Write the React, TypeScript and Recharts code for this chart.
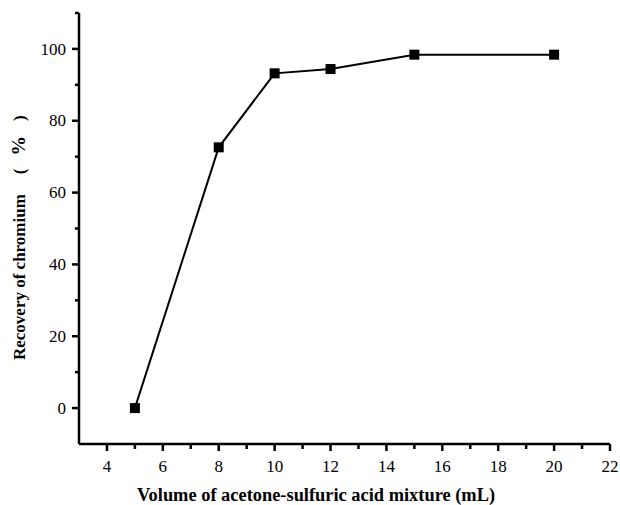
import React from "react";
import { LineChart, Line, XAxis, YAxis, Label } from "recharts";

const volumes = [5, 8, 10, 12, 15, 20];
const recovery = [0, 72.6, 93.2, 94.4, 98.4, 98.4];
const xTicks = [3, 4, 5, 6, 7, 8, 9, 10, 11, 12, 13, 14, 15, 16, 17, 18, 19, 20, 21, 22];
const yTicks = [-10, 0, 10, 20, 30, 40, 50, 60, 70, 80, 90, 100, 110];
const xLabel = "Volume of acetone-sulfuric acid mixture (mL)";
const yLabelMain = "Recovery of chromium";
const yLabelUnit = ["(", "%", ")"];

const data = volumes.map((v, i) => ({ x: v, y: recovery[i] }));

const FONT = "Liberation Serif";
const tickStyle: React.CSSProperties = { fontFamily: FONT, fontSize: 17, fill: "#000" };
const xLabelStyle: React.CSSProperties = { fontFamily: FONT, fontSize: 18.4, fontWeight: "bold", fill: "#000" };
const yLabelStyle: React.CSSProperties = { fontFamily: FONT, fontSize: 17, fontWeight: "bold", fill: "#000" };

const XTick = (props: any) => {
  const { x, y, payload } = props;
  const v = payload.value;
  if (v === 3) return <g />;
  const major = v % 2 === 0;
  return (
    <g>
      <line x1={x} x2={x} y1={y} y2={y + (major ? 7 : 5)} stroke="#000" strokeWidth={2.5} />
      {major && (
        <text x={x} y={y + 28} textAnchor="middle" style={tickStyle}>
          {v}
        </text>
      )}
    </g>
  );
};

const YTick = (props: any) => {
  const { x, y, payload } = props;
  const v = payload.value;
  if (v === -10) return <g />;
  const major = v % 20 === 0;
  return (
    <g>
      <line x1={x} x2={x - (major ? 7 : 4)} y1={y} y2={y} stroke="#000" strokeWidth={2.5} />
      {major && (
        <text x={x - 13} y={y + 5.7} textAnchor="end" style={tickStyle}>
          {v}
        </text>
      )}
    </g>
  );
};

const SquareDot = (props: any) => {
  const { cx, cy, index } = props;
  if (cx == null || cy == null) return <g key={index} />;
  return <rect key={index} x={cx - 5} y={cy - 5} width={10} height={10} fill="#000" />;
};

export default function App() {
  return (
    <div style={{ position: "absolute", left: 0, top: 0, background: "#fff" }}>
      <LineChart
        width={620}
        height={505}
        data={data}
        margin={{ top: 13, right: 10, left: 0, bottom: 0 }}
      >
        <XAxis
          dataKey="x"
          type="number"
          domain={[3, 22]}
          ticks={xTicks}
          interval={0}
          tickSize={0}
          tickMargin={0}
          tickLine={false}
          tick={<XTick />}
          height={61}
          axisLine={{ stroke: "#000", strokeWidth: 2.5 }}
        >
          <Label
            content={() => (
              <text x={137} y={501} textAnchor="start" style={xLabelStyle}>
                {xLabel}
              </text>
            )}
          />
        </XAxis>
        <YAxis
          type="number"
          domain={[-10, 110]}
          ticks={yTicks}
          interval={0}
          tickSize={0}
          tickMargin={0}
          tickLine={false}
          tick={<YTick />}
          width={79}
          axisLine={{ stroke: "#000", strokeWidth: 2.5 }}
        >
          <Label
            content={() => (
              <text
                x={25}
                y={360}
                transform="rotate(-90 25 360)"
                textAnchor="start"
                style={yLabelStyle}
              >
                {yLabelMain}
                <tspan dx={20}>{yLabelUnit[0]}</tspan>
                <tspan dx={13} style={{ fontSize: 19.5 }}>{yLabelUnit[1]}</tspan>
                <tspan dx={15}>{yLabelUnit[2]}</tspan>
              </text>
            )}
          />
        </YAxis>
        <Line
          type="linear"
          dataKey="y"
          stroke="#000"
          strokeWidth={2}
          dot={<SquareDot />}
          activeDot={false}
          isAnimationActive={false}
        />
      </LineChart>
    </div>
  );
}
